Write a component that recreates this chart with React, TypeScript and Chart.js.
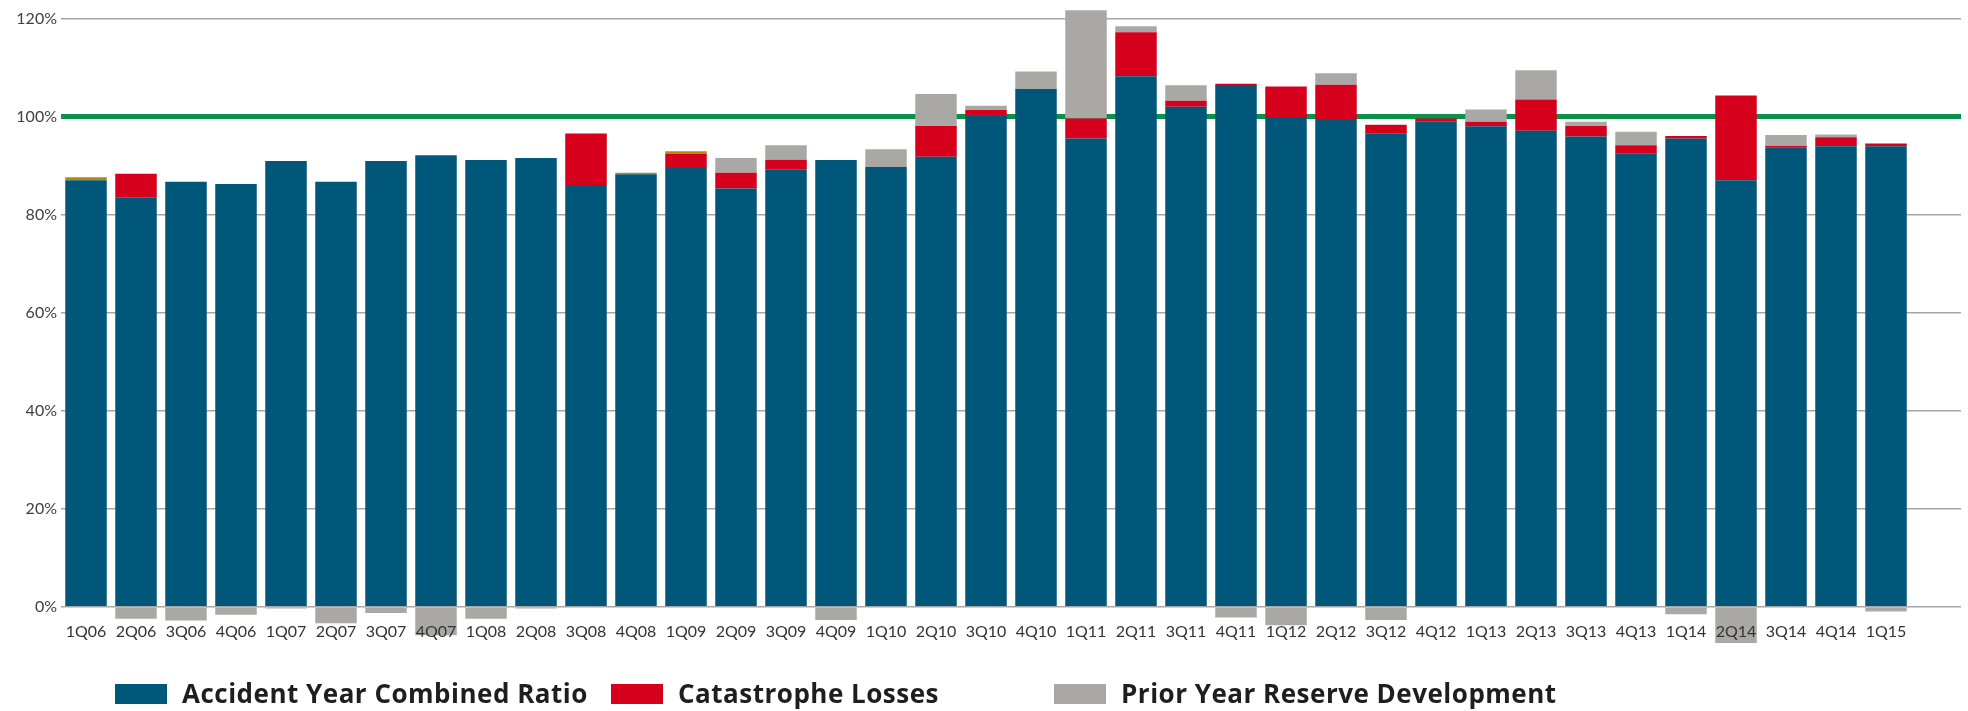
import React, { useEffect, useRef } from 'react';
import { Chart, registerables } from 'chart.js';

Chart.register(...registerables);

const QUARTERS = [
  '1Q06', '2Q06', '3Q06', '4Q06', '1Q07', '2Q07', '3Q07', '4Q07', '1Q08', '2Q08',
  '3Q08', '4Q08', '1Q09', '2Q09', '3Q09', '4Q09', '1Q10', '2Q10', '3Q10', '4Q10',
  '1Q11', '2Q11', '3Q11', '4Q11', '1Q12', '2Q12', '3Q12', '4Q12', '1Q13', '2Q13',
  '3Q13', '4Q13', '1Q14', '2Q14', '3Q14', '4Q14', '1Q15', '',
];

const ACCIDENT_YEAR = [
  87.1, 83.5, 86.8, 86.3, 91.0, 86.8, 91.0, 92.2, 91.2, 91.6,
  85.9, 88.3, 89.8, 85.4, 89.2, 91.2, 89.8, 91.9, 100.3, 105.7,
  95.6, 108.3, 102.1, 106.3, 100.0, 99.4, 96.7, 99.0, 98.1, 97.2,
  96.0, 92.5, 95.6, 87.1, 93.7, 94.0, 94.0,
];

const CATASTROPHE = [
  0, 4.9, 0, 0, 0, 0, 0, 0, 0, 0,
  10.7, 0, 2.7, 3.2, 2.05, 0, 0, 6.25, 1.1, 0,
  4.1, 9.0, 1.2, 0.5, 6.2, 7.2, 1.7, 0.7, 0.9, 6.35,
  2.15, 1.75, 0.5, 17.3, 0.35, 1.85, 0.6,
];

const OTHER = [
  0.6, 0, 0, 0, 0, 0, 0, 0, 0, 0,
  0, 0.3, 0.5, 0, 0, 0, 0, 0, 0, 0,
  0, 0, 0, 0, 0, 0, 0, 0, 0, 0,
  0, 0, 0, 0, 0, 0, 0,
];

const PRIOR_YEAR = [
  0, -2.45, -2.8, -1.6, -0.35, -3.35, -1.25, -5.8, -2.45, -0.35,
  0, 0, 0, 3.0, 3.0, -2.7, 3.6, 6.55, 0.9, 3.6,
  22.1, 1.2, 3.2, -2.2, -3.75, 2.3, -2.7, 0, 2.5, 6.0,
  0.85, 2.75, -1.5, -7.4, 2.25, 0.55, -0.95,
];

const Y_TICKS = [0, 20, 40, 60, 80, 100, 120];
const TARGET = 100;
const Y_MIN = -8;
const Y_MAX = 120;

const SERIES_NAMES = [
  'Accident Year Combined Ratio',
  'Catastrophe Losses',
  'Prior Year Reserve Development',
];
const OTHER_NAME = 'Other';

const BLUE = '#00577a';
const RED = '#d6001c';
const GRAY = '#a9a8a4';
const GOLD = '#b8860b';
const GREEN = '#0b9148';
const GRID = '#a6a6a6';
const FONT = "Lato, 'Open Sans', sans-serif";
const LEGEND_FONT = "'Open Sans', Lato, sans-serif";

const LEGEND_ITEMS = [
  { name: SERIES_NAMES[0], color: BLUE, left: 115 },
  { name: SERIES_NAMES[1], color: RED, left: 611 },
  { name: SERIES_NAMES[2], color: GRAY, left: 1054 },
];

export default function App() {
  const canvasRef = useRef<HTMLCanvasElement | null>(null);

  useEffect(() => {
    document.body.style.margin = '0';
    const canvas = canvasRef.current;
    if (!canvas) return;
    const barCommon = {
      barPercentage: 0.83,
      categoryPercentage: 1,
      clip: false as const,
      borderWidth: 0,
      stack: 'ratio',
    };
    const chart = new Chart(canvas, {
      type: 'bar',
      data: {
        labels: QUARTERS,
        datasets: [
          { label: SERIES_NAMES[0], data: ACCIDENT_YEAR, backgroundColor: BLUE, ...barCommon },
          { label: SERIES_NAMES[1], data: CATASTROPHE, backgroundColor: RED, ...barCommon },
          { label: OTHER_NAME, data: OTHER, backgroundColor: GOLD, ...barCommon },
          { label: SERIES_NAMES[2], data: PRIOR_YEAR, backgroundColor: GRAY, ...barCommon },
        ],
      },
      options: {
        animation: false,
        responsive: false,
        maintainAspectRatio: false,
        layout: { padding: { top: 19, bottom: 65, left: 0, right: 7 } },
        plugins: {
          legend: { display: false },
          tooltip: { enabled: false },
        },
        scales: {
          x: {
            stacked: true,
            position: { y: 0 } as any,
            grid: { display: false, drawTicks: false },
            border: { display: false },
            ticks: {
              autoSkip: false,
              maxRotation: 0,
              minRotation: 0,
              padding: 15,
              color: '#333333',
              font: { family: FONT, size: 16 },
              z: 1,
            } as any,
          },
          y: {
            stacked: true,
            min: Y_MIN,
            max: Y_MAX,
            afterBuildTicks: (scale: any) => {
              scale.ticks = Y_TICKS.map((v) => ({ value: v }));
            },
            afterFit: (scale: any) => {
              scale.width = 61;
            },
            grid: {
              drawTicks: false,
              color: (ctx: any) => (ctx.tick && ctx.tick.value === TARGET ? GREEN : GRID),
              lineWidth: (ctx: any) => (ctx.tick && ctx.tick.value === TARGET ? 5 : 1.6),
            },
            border: { display: false },
            ticks: {
              padding: 4,
              color: '#404040',
              font: { family: FONT, size: 16 },
              callback: (v: any) => `${v}%`,
            },
          },
        },
      },
    });
    return () => chart.destroy();
  }, []);

  return (
    <div style={{ position: 'relative', width: 1968, height: 711, overflow: 'hidden', background: '#ffffff' }}>
      <canvas ref={canvasRef} width={1968} height={711} style={{ position: 'absolute', left: 0, top: 0 }} />
      {LEGEND_ITEMS.map((item) => (
        <div key={item.name} style={{ position: 'absolute', left: item.left, top: 680, height: 30 }}>
          <div
            style={{
              position: 'absolute',
              left: 0,
              top: 4,
              width: 52,
              height: 20,
              background: item.color,
            }}
          />
          <div
            style={{
              position: 'absolute',
              left: 67,
              top: 0,
              whiteSpace: 'nowrap',
              fontFamily: LEGEND_FONT,
              fontWeight: 700,
              fontSize: 26,
              lineHeight: '26px',
              letterSpacing: '0.5px',
              color: '#1e1e1e',
            }}
          >
            {item.name}
          </div>
        </div>
      ))}
    </div>
  );
}
